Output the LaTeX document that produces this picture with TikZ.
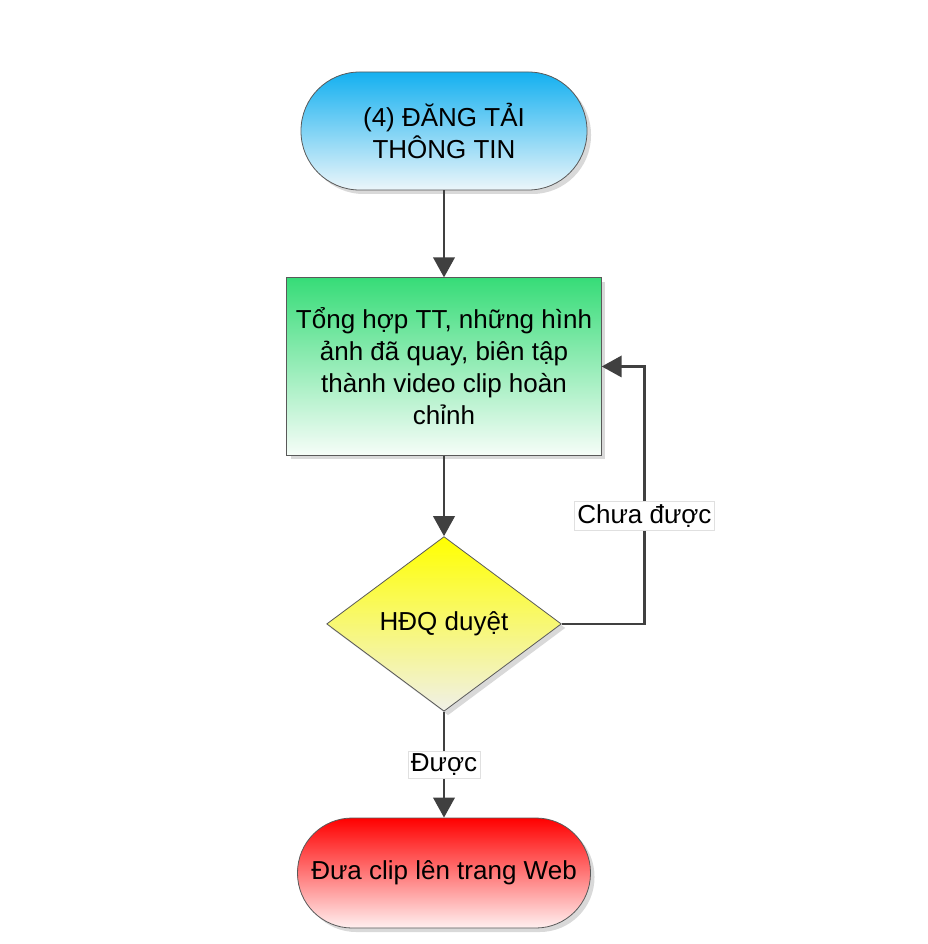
\documentclass[tikz,border=0pt]{standalone}
\usepackage{fontspec}
\setmainfont{Liberation Sans}
\usepackage{tikz}
\usetikzlibrary{arrows.meta,shapes.geometric,shadows}
\usetikzlibrary{positioning}
\definecolor{skytop}{RGB}{20,176,240}
\definecolor{skybot}{RGB}{236,246,250}
\definecolor{leaftop}{RGB}{55,220,120}
\definecolor{leafbot}{RGB}{246,253,248}
\definecolor{suntop}{RGB}{255,255,0}
\definecolor{sunbot}{RGB}{240,240,232}
\definecolor{firetop}{RGB}{255,0,0}
\definecolor{firebot}{RGB}{255,240,240}
\tikzset{
    term/.style={
           rectangle,
           draw=black!65, line width=0.6pt,
           align=center,
           drop shadow={shadow xshift=3pt,shadow yshift=-3pt,opacity=0.3},
           },
    task/.style={
           rectangle,
           draw=black!65, line width=0.6pt,
           minimum width=236pt,
           minimum height=133pt,
           inner sep=2pt,
           align=center,
           top color=leaftop, bottom color=leafbot,
           drop shadow={shadow xshift=3pt,shadow yshift=-3pt,opacity=0.3},
           },
    check/.style={
           diamond,
           aspect=1.34,
           draw=black!65, line width=0.6pt,
           minimum width=176pt,
           minimum height=131pt,
           inner sep=0pt,
           top color=suntop, bottom color=sunbot,
           drop shadow={shadow xshift=3pt,shadow yshift=-3pt,opacity=0.3},
           },
    lbl/.style={
           fill=white, draw=black!12, line width=0.4pt,
           inner sep=2pt,
           },
}
\begin{document}
\begin{tikzpicture}[->,>={Triangle[length=15pt,width=16pt]},
  line width=2pt, draw=black!75,
  font=\fontsize{19.5}{24}\selectfont]
  \useasboundingbox (0,0) rectangle (695.25pt,-708pt);
  \node[term,
 rounded corners=44pt,
 minimum width=214.5pt,
 minimum height=88.5pt,
 top color=skytop, bottom color=skybot] (START) at (333pt,-98.25pt)
 {(4) ĐĂNG TẢI\\THÔNG TIN};
  \node[task,
 below of=START,
 node distance=176.6pt] (EDIT)
 {Tổng hợp TT, những hình\\ảnh đã quay, biên tập\\thành video clip hoàn\\chỉnh};
  \node[check,
 below of=EDIT,
 node distance=193.1pt] (HDQ)
 {HĐQ duyệt};
  \node[term,
 below of=HDQ,
 node distance=186.8pt,
 rounded corners=41pt,
 minimum width=219.75pt,
 minimum height=82.5pt,
 top color=firetop, bottom color=firebot] (WEB)
 {Đưa clip lên trang Web};
 % connectors and their labels
\path
  (START) edge (EDIT)
  (EDIT) edge (HDQ)
  (HDQ) edge
    node[lbl] {Được}
    (WEB);
\draw (HDQ.east) -- ++(62pt,0) |-
    node[lbl,pos=0.21] {Chưa được}
    (EDIT.east);
\end{tikzpicture}
\end{document}
